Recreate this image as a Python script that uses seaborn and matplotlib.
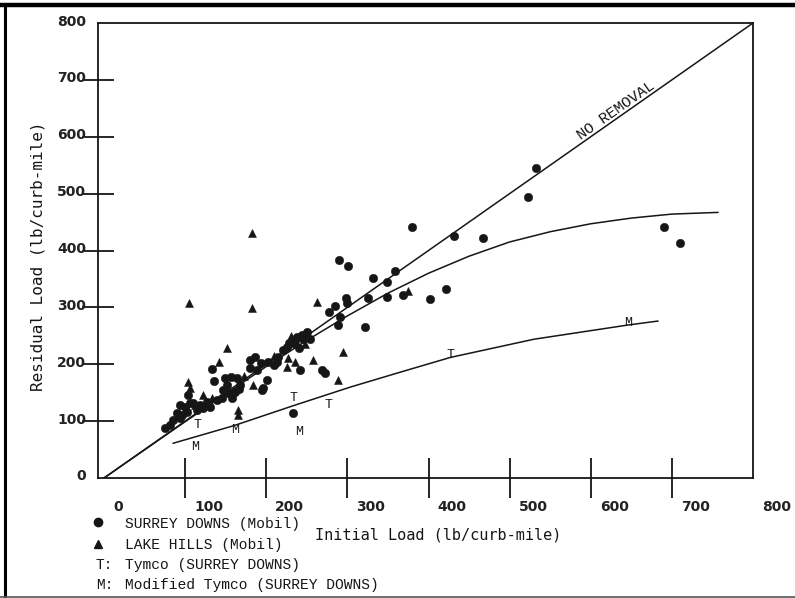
import matplotlib
matplotlib.use("Agg")
import matplotlib.pyplot as plt
import matplotlib.transforms as mtrans
from matplotlib.lines import Line2D
import pandas as pd
import seaborn as sns

# Surrey Downs (Mobil sweeper): initial vs residual load, lb/curb-mile
surrey_initial = [532, 523, 690, 710, 432, 467, 380,
                  290, 301, 331, 359, 349, 421, 402, 368, 349, 325, 298, 299, 285, 291, 322, 288, 277,
                  226, 232, 238, 244, 250, 236, 245, 228, 254, 240,
                  180, 186, 193, 202, 209, 215, 221, 180, 189, 213,
                  242, 269, 273, 201, 196, 233,
                  149, 156, 164, 168, 162, 153, 147, 158, 152, 166,
                  133, 136, 195,
                  104, 94, 100, 110, 118, 127, 139, 146, 90, 102, 115, 122, 131, 85, 94, 75, 81, 96, 106]
surrey_residual = [545, 494, 441, 413, 425, 422, 441,
                   383, 373, 351, 364, 345, 332, 315, 322, 318, 316, 316, 307, 302, 283, 265, 269, 292,
                   230, 240, 248, 252, 256, 235, 244, 238, 245, 228,
                   207, 213, 202, 204, 199, 213, 225, 193, 190, 204,
                   190, 190, 184, 172, 158, 114,
                   175, 178, 175, 163, 151, 149, 155, 141, 163, 157,
                   191, 170, 155,
                   146, 128, 125, 132, 128, 134, 137, 141, 114, 116, 120, 123, 125, 102, 105, 88, 93, 111, 132]

# Lake Hills (Mobil sweeper)
lake_initial = [183, 183, 262, 152, 105, 295, 288, 375, 231, 248,
                227, 236, 258, 226, 184, 142, 165, 165,
                104, 106, 122, 133, 210, 172, 112]
lake_residual = [430, 299, 309, 228, 307, 221, 172, 329, 250, 236,
                 211, 204, 207, 195, 163, 204, 119, 111,
                 169, 158, 146, 141, 215, 180, 128]

# Tymco and modified Tymco sweepers (Surrey Downs)
tymco_initial = [115, 233, 277, 427]
tymco_residual = [93, 141, 128, 216]
mod_tymco_initial = [112, 162, 240, 646]
mod_tymco_residual = [54, 84, 81, 272]

# Fitted removal curves
mobil_fit_x = [0, 100, 200, 250, 300, 350, 400, 450, 500, 550, 600, 650, 700, 757]
mobil_fit_y = [0, 99, 196, 242, 285, 325, 360, 390, 415, 433, 447, 457, 464, 467]
tymco_fit_x = [85, 160, 233, 304, 365, 427, 530, 646, 683]
tymco_fit_y = [61, 92, 127, 160, 186, 212, 244, 269, 276]

# Line of no removal (residual = initial)
no_removal = [0, 800]

axis_ticks = [0, 100, 200, 300, 400, 500, 600, 700, 800]

sns.set_style("white")
plt.rcParams["font.family"] = ["DejaVu Sans"]

ink = "#161616"
fig = plt.figure(figsize=(7.95, 5.98), dpi=100)
ax = fig.add_axes([98 / 795, 1 - 478 / 598, 655 / 795, 455 / 598])

surrey = pd.DataFrame({"initial": surrey_initial, "residual": surrey_residual})
lake = pd.DataFrame({"initial": lake_initial, "residual": lake_residual})
mobil_fit = pd.DataFrame({"initial": mobil_fit_x, "residual": mobil_fit_y})
tymco_fit = pd.DataFrame({"initial": tymco_fit_x, "residual": tymco_fit_y})
diag = pd.DataFrame({"initial": no_removal, "residual": no_removal})

for d in (diag, mobil_fit, tymco_fit):
    sns.lineplot(data=d, x="initial", y="residual", ax=ax, color=ink, lw=1.1,
                 sort=False, estimator=None)

sns.scatterplot(data=surrey, x="initial", y="residual", ax=ax, marker="o",
                s=36, color=ink, edgecolor=ink, linewidth=0.4)
sns.scatterplot(data=lake, x="initial", y="residual", ax=ax, marker="^",
                s=32, color=ink, edgecolor=ink, linewidth=0.4)

for xv, yv in zip(tymco_initial, tymco_residual):
    ax.text(xv, yv, "T", ha="center", va="center", fontsize=9.5,
            family="Liberation Mono", color=ink)
for xv, yv in zip(mod_tymco_initial, mod_tymco_residual):
    ax.text(xv, yv, "M", ha="center", va="center", fontsize=9.5,
            family="Liberation Mono", color=ink)

ax.text(636, 636, "NO REMOVAL", rotation=45, transform_rotates_text=True,
        rotation_mode="anchor", ha="center", va="bottom", fontsize=11,
        family="Liberation Mono", color=ink)

ax.set_xlim(-7.4, 800)
ax.set_ylim(0, 800)
ax.set_xticks(axis_ticks)
ax.set_yticks(axis_ticks)
ax.set_xticklabels([str(t) for t in axis_ticks])
ax.set_yticklabels([str(t) for t in axis_ticks])
ax.set_xlabel("")
ax.set_ylabel("")

for sp in ax.spines.values():
    sp.set_color(ink)
    sp.set_linewidth(1.3)
    sp.set_visible(True)

ax.tick_params(axis="x", which="major", bottom=True, direction="inout", length=29,
               width=1.3, color=ink, pad=1, labelsize=10)
ax.tick_params(axis="y", which="major", left=True, direction="inout", length=23,
               width=1.3, color=ink, pad=-3, labelsize=10)

for tk in (ax.xaxis.get_major_ticks()[0], ax.xaxis.get_major_ticks()[-1],
           ax.yaxis.get_major_ticks()[0], ax.yaxis.get_major_ticks()[-1]):
    tk.tick1line.set_visible(False)
    tk.tick2line.set_visible(False)

xoff = mtrans.ScaledTranslation(9 / 100, 0, fig.dpi_scale_trans)
for lab in ax.get_xticklabels():
    lab.set_transform(lab.get_transform() + xoff)
    lab.set_horizontalalignment("left")
    lab.set_fontweight("bold")
    lab.set_color("#222222")
yoff = mtrans.ScaledTranslation(0, 3 / 100, fig.dpi_scale_trans)
for lab in ax.get_yticklabels():
    lab.set_transform(lab.get_transform() + yoff)
    lab.set_fontweight("bold")
    lab.set_color("#222222")

# Axis titles
fig.text(315 / 795, 1 - 535 / 598, "Initial Load (lb/curb-mile)", ha="left",
         va="center", fontsize=11, family="DejaVu Sans Mono", color=ink)
fig.text(38 / 795, 1 - 256 / 598, "Residual Load (lb/curb-mile)", ha="center",
         va="center", rotation=90, fontsize=11.5, family="DejaVu Sans Mono", color=ink)

# Key
fig.add_artist(Line2D([98 / 795], [1 - 522 / 598], marker="o", ms=6, color=ink, lw=0))
fig.add_artist(Line2D([98 / 795], [1 - 544 / 598], marker="^", ms=6, color=ink, lw=0))
key_rows = [("", "SURREY DOWNS (Mobil)", 524),
            ("", "LAKE HILLS (Mobil)", 545),
            ("T:", "Tymco (SURREY DOWNS)", 565),
            ("M:", "Modified Tymco (SURREY DOWNS)", 585)]
for tag, label, yp in key_rows:
    if tag:
        fig.text(96 / 795, 1 - yp / 598, tag, ha="left", va="center", fontsize=10.5,
                 family="Liberation Mono", color=ink)
    fig.text(125 / 795, 1 - yp / 598, label, ha="left", va="center", fontsize=10.5,
             family="Liberation Mono", color=ink)

# Frame round the figure
fig.add_artist(Line2D([0, 1], [1 - 5 / 598, 1 - 5 / 598], color="black", lw=3.2))
fig.add_artist(Line2D([5 / 795, 5 / 795], [1 - 5 / 598, 1 - 597 / 598], color="black", lw=2.2))
fig.add_artist(Line2D([0, 1], [1 - 597 / 598, 1 - 597 / 598], color="#555555", lw=1.2))

fig.savefig("out.png", dpi=100)
